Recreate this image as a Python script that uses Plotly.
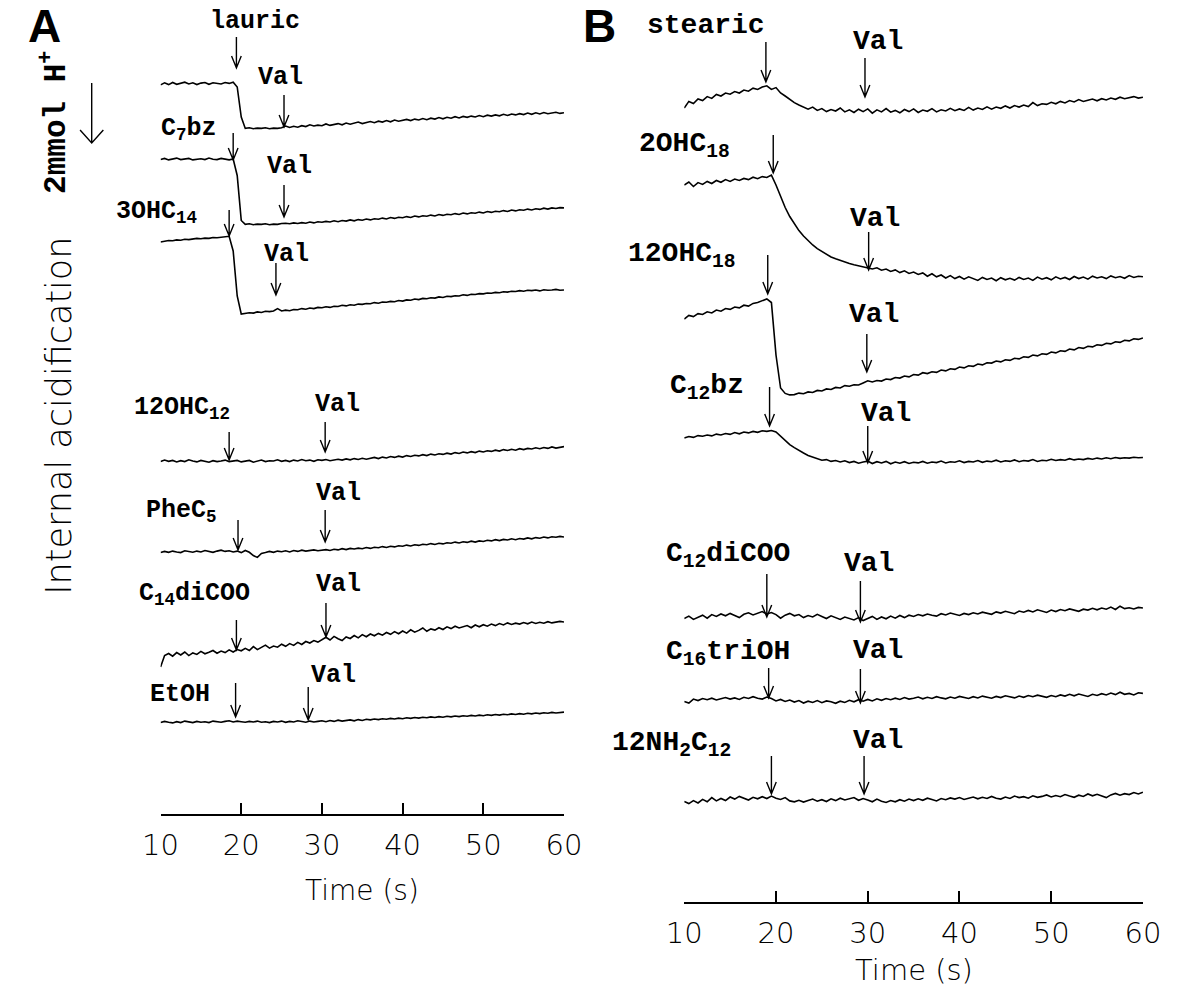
import plotly.graph_objects as go

W, H = 1192, 1006

# ---------------- data ----------------
# sampling grid of the recordings (s)
TIME = [10 + 0.5 * i for i in range(101)]
TICKS = [10, 20, 30, 40, 50, 60]

# internal acidification, mmol H+ (positive = downward deflection)
A_NAMES = ["lauric", "C<sub>7</sub>bz", "3OHC<sub>14</sub>", "12OHC<sub>12</sub>",
           "PheC<sub>5</sub>", "C<sub>14</sub>diCOO", "EtOH"]
A_ADD_T = [19.4, 19.0, 18.5, 18.5, 19.6, 19.4, 19.3]
A_VAL_T = [25.3, 25.3, 24.3, 30.4, 30.4, 30.5, 28.3]

A_lauric = [0.03, -0.04, 0.02, -0.05, 0.01, -0.03, -0.06, 0.00, -0.04, 0.02,
            -0.03, -0.05, 0.01, -0.04, -0.02, 0.00, -0.05, -0.02, -0.06,
            0.10, 1.10, 1.48,
            1.46, 1.49, 1.47, 1.48, 1.46, 1.49, 1.47, 1.48, 1.46,
            1.40,
            1.45, 1.41, 1.44, 1.39, 1.42, 1.36, 1.40, 1.37, 1.39, 1.33,
            1.38, 1.35, 1.32, 1.36, 1.30, 1.34, 1.31, 1.27, 1.32, 1.28,
            1.25, 1.29, 1.24, 1.27, 1.22, 1.26, 1.20, 1.24, 1.21, 1.18,
            1.22, 1.17, 1.20, 1.15, 1.19, 1.14, 1.17, 1.12, 1.16, 1.11,
            1.14, 1.09, 1.13, 1.08, 1.11, 1.07, 1.10, 1.05, 1.09, 1.04,
            1.07, 1.03, 1.06, 1.01, 1.05, 1.00, 1.03, 0.99, 1.02, 0.97,
            1.01, 0.96, 1.00, 0.95, 0.99, 0.97, 0.94, 0.98, 0.96]
A_c7bz = [0.02, -0.02, 0.03, 0.00, -0.03, 0.02, 0.01, -0.02, 0.03, 0.00,
          -0.01, 0.02, -0.03, 0.01, 0.02, -0.02, 0.01, 0.03, 0.00,
          0.55, 2.05, 2.18,
          2.16, 2.19, 2.17, 2.18, 2.16, 2.19, 2.17, 2.18, 2.15,
          2.14,
          2.16, 2.13, 2.15, 2.12, 2.14, 2.10, 2.13, 2.09, 2.11, 2.08,
          2.10, 2.06, 2.09, 2.05, 2.07, 2.03, 2.06, 2.02, 2.04, 2.00,
          2.03, 1.99, 2.01, 1.97, 2.00, 1.95, 1.98, 1.94, 1.96, 1.92,
          1.95, 1.90, 1.93, 1.89, 1.91, 1.87, 1.90, 1.85, 1.88, 1.84,
          1.86, 1.82, 1.85, 1.80, 1.83, 1.79, 1.81, 1.77, 1.80, 1.75,
          1.78, 1.74, 1.76, 1.72, 1.75, 1.70, 1.73, 1.69, 1.71, 1.67,
          1.70, 1.66, 1.68, 1.64, 1.67, 1.63, 1.65, 1.62, 1.63]
A_3ohc14 = [0.00, -0.03, -0.05, -0.04, -0.07, -0.06, -0.09, -0.08, -0.10, -0.12,
            -0.11, -0.13, -0.12, -0.15, -0.14, -0.16, -0.18,
            -0.19, 0.30, 1.80, 2.40,
            2.38, 2.36, 2.37, 2.33, 2.35, 2.31, 2.32, 2.30,
            2.22, 2.30,
            2.27, 2.29, 2.25, 2.26, 2.22, 2.24, 2.20, 2.22, 2.18, 2.19,
            2.16, 2.18, 2.14, 2.15, 2.11, 2.13, 2.09, 2.11, 2.07, 2.08,
            2.05, 2.06, 2.02, 2.04, 2.00, 2.01, 1.98, 1.99, 1.95, 1.97,
            1.93, 1.94, 1.90, 1.92, 1.88, 1.89, 1.86, 1.87, 1.83, 1.85,
            1.81, 1.82, 1.79, 1.80, 1.76, 1.78, 1.74, 1.75, 1.72, 1.73,
            1.70, 1.71, 1.68, 1.69, 1.66, 1.67, 1.64, 1.65, 1.62, 1.64,
            1.61, 1.62, 1.60, 1.63, 1.59, 1.61, 1.60, 1.58, 1.61, 1.60]
A_12ohc12 = [0.02, -0.03, 0.01, -0.02, 0.03, -0.01, 0.02, -0.04, 0.00, 0.03,
             -0.02, 0.01, 0.04, -0.01, 0.02, 0.00, -0.03, 0.02, 0.01, -0.02,
             0.03, 0.00, -0.02, 0.04, 0.01, -0.03, 0.02, -0.01, 0.00, -0.04,
             0.01, -0.02, 0.02, -0.03, 0.00, -0.05, -0.01, -0.03, 0.01, -0.04,
             -0.02, -0.05, -0.01, -0.04, -0.06, -0.03, -0.07, -0.04, -0.08, -0.05,
             -0.09, -0.06, -0.10, -0.12, -0.08, -0.13, -0.10, -0.15, -0.12, -0.16,
             -0.13, -0.18, -0.15, -0.19, -0.17, -0.21, -0.18, -0.23, -0.20, -0.24,
             -0.22, -0.26, -0.23, -0.28, -0.25, -0.30, -0.27, -0.31, -0.28, -0.33,
             -0.30, -0.34, -0.32, -0.36, -0.33, -0.38, -0.35, -0.39, -0.36, -0.41,
             -0.38, -0.42, -0.40, -0.44, -0.41, -0.45, -0.42, -0.47, -0.43, -0.46, -0.48]
A_phec5 = [0.02, -0.02, 0.01, -0.03, 0.00, 0.02, -0.04, -0.01, 0.01, -0.03,
           0.00, -0.05, -0.02, 0.01, -0.03, -0.06, -0.02, -0.04, 0.00, -0.03,
           0.02, -0.05, 0.01, 0.12, 0.18, 0.05, 0.02, -0.02, 0.01, -0.03,
           -0.01, -0.04, 0.00, -0.05, -0.02, -0.06, -0.03, -0.05, -0.07, -0.04,
           -0.06, -0.08, -0.05, -0.09, -0.07, -0.11, -0.08, -0.12, -0.10, -0.13,
           -0.11, -0.15, -0.12, -0.16, -0.14, -0.18, -0.15, -0.19, -0.17, -0.21,
           -0.19, -0.23, -0.20, -0.24, -0.22, -0.26, -0.24, -0.28, -0.25, -0.29,
           -0.27, -0.31, -0.29, -0.33, -0.30, -0.34, -0.32, -0.36, -0.33, -0.37,
           -0.35, -0.39, -0.37, -0.41, -0.38, -0.42, -0.40, -0.44, -0.41, -0.45,
           -0.43, -0.47, -0.44, -0.48, -0.46, -0.50, -0.47, -0.51, -0.49, -0.52, -0.50]
A_c14dicoo = [0.00, -0.38, -0.45, -0.36, -0.48, -0.40, -0.50, -0.38, -0.47, -0.42,
              -0.52, -0.44, -0.49, -0.55, -0.46, -0.53, -0.48, -0.57, -0.50, -0.58,
              -0.54, -0.62, -0.55, -0.68, -0.58, -0.65, -0.73, -0.63, -0.70, -0.66,
              -0.76, -0.69, -0.78, -0.72, -0.82, -0.75, -0.85, -0.80, -0.88, -0.83,
              -0.92, -0.99, -0.90, -1.02, -0.94, -0.88, -1.00, -0.95, -1.05, -0.97,
              -1.08, -1.01, -1.10, -1.04, -1.12, -1.06, -1.15, -1.09, -1.18, -1.11,
              -1.20, -1.13, -1.24, -1.16, -1.22, -1.30, -1.19, -1.27, -1.23, -1.31,
              -1.25, -1.34, -1.28, -1.36, -1.30, -1.33, -1.38, -1.31, -1.40, -1.34,
              -1.41, -1.36, -1.43, -1.38, -1.45, -1.40, -1.47, -1.42, -1.46, -1.43,
              -1.48, -1.44, -1.50, -1.45, -1.49, -1.46, -1.51, -1.47, -1.50, -1.52,
              -1.50]
A_etoh = [0.02, -0.02, 0.01, 0.03, -0.01, 0.02, -0.03, 0.00, 0.02, -0.02,
          0.01, -0.01, 0.02, -0.03, 0.00, 0.01, -0.02, -0.04, 0.00, -0.03,
          -0.01, 0.01, -0.02, 0.00, -0.03, 0.01, -0.01, 0.02, -0.02, 0.00,
          -0.03, 0.01, -0.02, 0.00, -0.04, -0.01, 0.01, -0.03, 0.00, -0.02,
          -0.04, -0.01, -0.05, -0.02, -0.06, -0.03, -0.05, -0.07, -0.04, -0.08,
          -0.05, -0.09, -0.07, -0.10, -0.08, -0.11, -0.09, -0.12, -0.10, -0.13,
          -0.11, -0.14, -0.12, -0.15, -0.13, -0.16, -0.14, -0.17, -0.15, -0.18,
          -0.16, -0.19, -0.17, -0.20, -0.18, -0.21, -0.19, -0.22, -0.20, -0.23,
          -0.21, -0.24, -0.22, -0.25, -0.23, -0.26, -0.24, -0.27, -0.25, -0.28,
          -0.26, -0.29, -0.27, -0.30, -0.28, -0.31, -0.29, -0.32, -0.30, -0.31, -0.33]

B_NAMES = ["stearic", "2OHC<sub>18</sub>", "12OHC<sub>18</sub>", "C<sub>12</sub>bz",
           "C<sub>12</sub>diCOO", "C<sub>16</sub>triOH", "12NH<sub>2</sub>C<sub>12</sub>"]
B_ADD_T = [18.9, 19.7, 19.1, 19.3, 19.0, 19.2, 19.5]
B_VAL_T = [29.7, 30.1, 29.9, 30.0, 29.2, 29.2, 29.6]

B_stearic = [0.00, -0.22, -0.15, -0.30, -0.25, -0.38, -0.32, -0.45, -0.40, -0.50,
             -0.46, -0.55, -0.50, -0.60, -0.56, -0.66, -0.62, -0.70, -0.74,
             -0.62, -0.68, -0.50, -0.40, -0.28, -0.18, -0.10, -0.02, 0.04, -0.03,
             0.08, 0.02, 0.12, 0.05, 0.10, 0.00, 0.13, 0.06, 0.15, 0.04,
             0.12, 0.03, 0.17, 0.06, 0.13, 0.02, 0.14, 0.08, 0.16, 0.05,
             0.12, 0.03, 0.15, 0.07, 0.11, 0.02, 0.13, 0.06, 0.10, 0.01,
             0.09, 0.03, 0.08, -0.02, 0.07, 0.00, 0.05, -0.04, 0.04, -0.03,
             0.01, -0.07, 0.00, -0.08, -0.03, -0.10, -0.05, -0.18, -0.08, -0.14,
             -0.12, -0.19, -0.14, -0.22, -0.17, -0.25, -0.20, -0.28, -0.22, -0.26,
             -0.30, -0.24, -0.31, -0.27, -0.33, -0.29, -0.36, -0.31, -0.34, -0.38,
             -0.33, -0.36]
B_2ohc18 = [0.00, -0.10, 0.05, -0.08, -0.02, -0.12, -0.05, -0.15, -0.09, -0.18,
            -0.12, -0.20, -0.15, -0.22, -0.18, -0.26, -0.21, -0.28, -0.25, -0.33,
            0.00, 0.40, 0.75, 1.05, 1.30, 1.52, 1.70, 1.86, 2.00, 2.12,
            2.22, 2.32, 2.40, 2.46, 2.52, 2.58, 2.62, 2.66, 2.70, 2.73, 2.76,
            2.80, 2.76, 2.84, 2.80, 2.88, 2.83, 2.92, 2.86, 2.95, 2.90,
            2.98, 2.93, 3.04, 2.96, 3.06, 3.00, 3.10, 3.02, 3.12, 3.05,
            3.14, 3.06, 3.12, 3.18, 3.08, 3.15, 3.10, 3.19, 3.09, 3.16,
            3.11, 3.17, 3.08, 3.15, 3.10, 3.18, 3.07, 3.14, 3.09, 3.16,
            3.06, 3.13, 3.08, 3.15, 3.05, 3.12, 3.07, 3.14, 3.04, 3.10,
            3.06, 3.12, 3.03, 3.09, 3.05, 3.11, 3.02, 3.08, 3.04, 3.06]
B_12ohc18 = [0.00, -0.12, -0.08, -0.18, -0.15, -0.24, -0.20, -0.30, -0.26, -0.35,
             -0.32, -0.40, -0.37, -0.46, -0.43, -0.52, -0.55, -0.62, -0.67,
             -0.55, 1.20, 2.30, 2.48, 2.53,
             2.52, 2.47, 2.49, 2.43, 2.45, 2.38, 2.40, 2.33, 2.35, 2.28,
             2.30, 2.22, 2.24, 2.19, 2.20, 2.13, 2.06, 2.10, 2.05, 2.07,
             2.00, 2.02, 1.95, 1.97, 1.90, 1.93, 1.85, 1.87, 1.79, 1.82,
             1.76, 1.78, 1.70, 1.73, 1.66, 1.68, 1.60, 1.63, 1.56, 1.58,
             1.50, 1.53, 1.46, 1.47, 1.40, 1.43, 1.36, 1.38, 1.31, 1.33,
             1.26, 1.28, 1.20, 1.23, 1.16, 1.18, 1.10, 1.13, 1.06, 1.08,
             1.00, 1.03, 0.95, 0.98, 0.91, 0.93, 0.86, 0.88, 0.81, 0.83,
             0.76, 0.78, 0.71, 0.73, 0.66, 0.68, 0.63]
B_c12bz = [0.00, -0.05, -0.02, -0.08, -0.06, -0.10, -0.07, -0.13, -0.10, -0.15,
           -0.12, -0.18, -0.14, -0.20, -0.17, -0.22, -0.19, -0.24, -0.22,
           -0.25, -0.20, -0.05, 0.10, 0.22, 0.32, 0.42, 0.50, 0.58, 0.64,
           0.70, 0.74, 0.72, 0.78, 0.75, 0.80, 0.76, 0.82, 0.78, 0.84,
           0.80, 0.77, 0.85, 0.79, 0.83, 0.78, 0.86, 0.80, 0.84, 0.79,
           0.85, 0.81, 0.83, 0.78, 0.84, 0.80, 0.82, 0.77, 0.83, 0.79,
           0.81, 0.76, 0.82, 0.78, 0.80, 0.75, 0.81, 0.77, 0.79, 0.74,
           0.80, 0.76, 0.78, 0.73, 0.79, 0.75, 0.77, 0.72, 0.78, 0.74,
           0.76, 0.71, 0.75, 0.72, 0.74, 0.69, 0.73, 0.70, 0.72, 0.68,
           0.71, 0.67, 0.70, 0.66, 0.69, 0.65, 0.68, 0.66, 0.67, 0.64,
           0.66, 0.65]
B_c12dicoo = [0.05, -0.03, 0.08, 0.00, -0.06, 0.04, -0.08, -0.02, -0.10, -0.04,
              -0.12, -0.05, 0.02, -0.09, -0.14, -0.07, -0.12, -0.18, -0.10, -0.15,
              -0.08, 0.04, -0.06, -0.12, -0.04, -0.08, 0.02, -0.05, 0.00, -0.09,
              -0.02, 0.05, -0.04, 0.03, 0.08, 0.00, 0.06, 0.10, 0.02, 0.12,
              0.05, -0.02, 0.08, 0.00, 0.06, -0.03, 0.04, -0.05, 0.02, -0.06,
              -0.02, -0.08, -0.04, -0.10, -0.06, -0.03, -0.11, -0.07, -0.13, -0.09,
              -0.05, -0.12, -0.08, -0.14, -0.10, -0.16, -0.12, -0.09, -0.17, -0.13,
              -0.19, -0.14, -0.11, -0.20, -0.16, -0.22, -0.17, -0.24, -0.19, -0.15,
              -0.23, -0.18, -0.25, -0.21, -0.27, -0.22, -0.19, -0.26, -0.23, -0.29,
              -0.24, -0.30, -0.26, -0.33, -0.25, -0.36, -0.28, -0.31, -0.27, -0.32,
              -0.30]
B_c16trioh = [0.05, 0.10, -0.03, 0.02, -0.05, -0.01, -0.06, 0.00, -0.04, -0.08,
              -0.03, -0.07, -0.02, -0.09, -0.05, -0.11, -0.06, -0.03, -0.10, -0.05,
              0.03, -0.02, 0.05, 0.00, 0.07, 0.02, 0.10, 0.04, 0.08, 0.02,
              0.09, 0.03, 0.06, 0.11, 0.04, 0.08, 0.01, 0.06, -0.01, 0.04,
              -0.02, 0.03, -0.04, 0.01, -0.05, -0.01, -0.06, -0.02, -0.08, -0.03,
              -0.06, -0.10, -0.04, -0.09, -0.05, -0.11, -0.07, -0.04, -0.10, -0.06,
              -0.12, -0.08, -0.05, -0.11, -0.07, -0.13, -0.09, -0.06, -0.12, -0.08,
              -0.14, -0.10, -0.07, -0.13, -0.09, -0.15, -0.11, -0.16, -0.12, -0.09,
              -0.15, -0.11, -0.17, -0.13, -0.19, -0.14, -0.20, -0.16, -0.12, -0.19,
              -0.15, -0.21, -0.17, -0.23, -0.18, -0.26, -0.19, -0.22, -0.17, -0.24,
              -0.22]
B_12nh2c12 = [0.05, 0.12, 0.02, 0.10, -0.02, 0.06, -0.08, 0.03, -0.05, 0.02,
              -0.10, -0.03, -0.12, -0.06, 0.00, -0.09, -0.04, -0.11, -0.05, -0.13,
              -0.06, -0.02, -0.08, 0.03, 0.06, 0.01, 0.07, 0.02, -0.03, 0.04,
              -0.01, 0.05, -0.04, 0.02, -0.06, 0.00, -0.03, -0.08, 0.01, -0.05,
              0.00, 0.06, -0.03, 0.04, 0.08, 0.02, 0.06, -0.01, 0.04, -0.03,
              0.02, -0.04, 0.01, -0.06, -0.02, 0.03, -0.05, -0.01, -0.07, -0.03,
              -0.08, -0.02, -0.06, -0.10, -0.04, -0.09, -0.05, -0.12, -0.06, -0.03,
              -0.10, -0.05, -0.13, -0.08, -0.11, -0.06, -0.14, -0.09, -0.12, -0.17,
              -0.10, -0.15, -0.11, -0.18, -0.13, -0.09, -0.16, -0.12, -0.20, -0.14,
              -0.19, -0.13, -0.08, -0.17, -0.22, -0.16, -0.21, -0.18, -0.25, -0.20,
              -0.26]

A_SERIES = [A_lauric, A_c7bz, A_3ohc14, A_12ohc12, A_phec5, A_c14dicoo, A_etoh]
B_SERIES = [B_stearic, B_2ohc18, B_12ohc18, B_c12bz, B_c12dicoo, B_c16trioh, B_12nh2c12]

# ---------------- layout constants (pixels) ----------------
PX_PER_MMOL = 30
A_AXIS_PX, B_AXIS_PX = 814, 902
A_X0, A_X1 = 147, 563
B_X0, B_X1 = 687, 1160
A_BASE = [84, 159, 242, 461, 552, 667, 722]
B_BASE = [108, 185, 319, 438, 617, 700, 800]
A_ADD_Y = [(37, 68), (133, 160), (210, 236), (432, 460), (520, 550), (620, 650), (683, 717)]
A_VAL_Y = [(95, 127), (185, 217), (263, 295), (422, 452), (510, 542), (603, 637), (687, 720)]
B_ADD_Y = [(42, 82), (135, 173), (255, 294), (387, 426), (574, 617), (668, 698), (756, 794)]
B_VAL_Y = [(58, 97), (232, 270), (334, 372), (426, 463), (581, 622), (669, 703), (756, 794)]
# label anchor points: (x, y, xanchor)
A_LAB = [(244, 22, "center"), (145, 130, "left"), (99, 212, "left"), (118, 408, "left"),
         (130, 511, "left"), (123, 594, "left"), (134, 694, "left")]
A_VAL_LAB = [(271, 78), (280, 166), (277, 254), (329, 404), (330, 494), (330, 584), (325, 675)]
B_LAB = [(709, 25, "center"), (638, 146, "left"), (627, 256, "left"), (670, 387, "left"),
         (666, 555, "left"), (666, 653, "left"), (610, 744, "left")]
B_VAL_LAB = [(887, 42), (884, 219), (883, 314), (895, 413), (877, 563), (887, 650), (887, 740)]

MONO = "Liberation Mono"
SANS = "DejaVu Sans"

fig = go.Figure()


def px2paper(x, y):
    return x / W, 1 - y / H


for series, base in zip(A_SERIES, A_BASE):
    fig.add_trace(go.Scatter(x=TIME, y=[base + PX_PER_MMOL * v for v in series],
                             xaxis="x", yaxis="y", mode="lines",
                             line=dict(color="black", width=1.6), showlegend=False,
                             hoverinfo="skip"))
for series, base in zip(B_SERIES, B_BASE):
    fig.add_trace(go.Scatter(x=TIME, y=[base + PX_PER_MMOL * v for v in series],
                             xaxis="x2", yaxis="y2", mode="lines",
                             line=dict(color="black", width=1.6), showlegend=False,
                             hoverinfo="skip"))

shapes = []


def arrow_path(t, y0, y1, px_per_s, hw=5, hh=12):
    dx = hw / px_per_s
    return (f"M {t},{y0} L {t},{y1} M {t - dx},{y1 - hh} L {t},{y1} L {t + dx},{y1 - hh}")


a_pps = (A_X1 - A_X0) / 50
b_pps = (B_X1 - B_X0) / 50
for t, (y0, y1) in zip(A_ADD_T + A_VAL_T, A_ADD_Y + A_VAL_Y):
    shapes.append(dict(type="path", xref="x", yref="y", path=arrow_path(t, y0, y1, a_pps),
                       line=dict(color="black", width=1.4)))
for t, (y0, y1) in zip(B_ADD_T + B_VAL_T, B_ADD_Y + B_VAL_Y):
    shapes.append(dict(type="path", xref="x2", yref="y2", path=arrow_path(t, y0, y1, b_pps),
                       line=dict(color="black", width=1.4)))

# scale arrow (2 mmol H+)
sx = 76
p = lambda x, y: f"{x / W},{1 - y / H}"
shapes.append(dict(type="path", xref="paper", yref="paper",
                   path=f"M {p(sx, 83)} L {p(sx, 143)} M {p(sx - 12, 130)} L {p(sx, 143)} L {p(sx + 12, 130)}",
                   line=dict(color="black", width=1.4)))

anns = []


def ann(text, x, y, size, family=MONO, xanchor="center", yanchor="middle", angle=0,
        weight="bold"):
    xp, yp = px2paper(x, y)
    anns.append(dict(text=text, x=xp, y=yp, xref="paper", yref="paper", showarrow=False,
                     xanchor=xanchor, yanchor=yanchor, textangle=angle,
                     font=dict(family=family, size=size, color="black", weight=weight)))


ann("A", 27, 26, 46, family="Liberation Sans")
ann("B", 600, 26, 46, family="Liberation Sans")
ann("2mmol H<sup>+</sup>", 37, 122, 31, angle=-90)
ann("Internal acidification", 42, 416, 35, family=SANS, angle=-90, weight=300)

for name, (x, y, xa) in zip(A_NAMES, A_LAB):
    ann(name, x, y, 25, xanchor=xa)
for (x, y) in A_VAL_LAB:
    ann("Val", x, y, 25)
for name, (x, y, xa) in zip(B_NAMES, B_LAB):
    ann(name, x, y, 28, xanchor=xa)
for (x, y) in B_VAL_LAB:
    ann("Val", x, y, 28)

ann("Time (s)", (A_X0 + A_X1) / 2, 890, 28, family=SANS, weight=300)
ann("Time (s)", (B_X0 + B_X1) / 2, 970, 29, family=SANS, weight=300)

xcommon = dict(range=[10, 60], tickvals=TICKS, ticks="inside", ticklen=11, tickwidth=1.6,
               showline=True, linecolor="black", linewidth=1.6, showgrid=False,
               zeroline=False, tickcolor="black", ticklabelstandoff=4,
               tickfont=dict(family=SANS, size=29, color="black", weight=300))

fig.update_layout(
    width=W, height=H, margin=dict(l=0, r=0, t=0, b=0),
    paper_bgcolor="white", plot_bgcolor="white",
    xaxis=dict(domain=[A_X0 / W, A_X1 / W], anchor="y", **xcommon),
    yaxis=dict(domain=[1 - A_AXIS_PX / H, 1], range=[A_AXIS_PX, 0], visible=False,
               anchor="x"),
    xaxis2=dict(domain=[B_X0 / W, B_X1 / W], anchor="y2", **xcommon),
    yaxis2=dict(domain=[1 - B_AXIS_PX / H, 1], range=[B_AXIS_PX, 0], visible=False,
                anchor="x2"),
    shapes=shapes, annotations=anns,
)

fig.write_html("out.html", config={"displayModeBar": False},
               post_script="document.body.style.margin='0px';")
